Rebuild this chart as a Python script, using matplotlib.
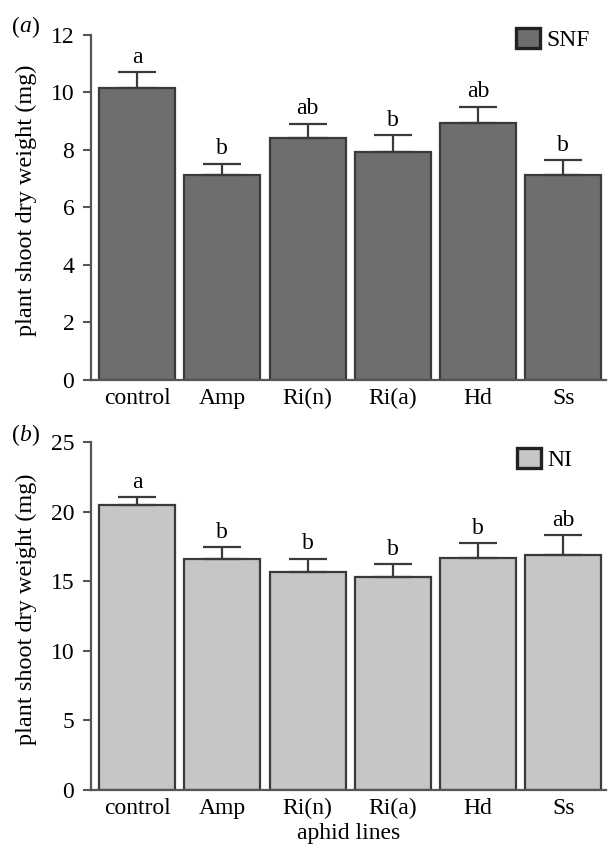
import matplotlib
matplotlib.use('Agg')
import matplotlib.pyplot as plt
from matplotlib.patches import Patch

plt.rcParams['font.family'] = ['Liberation Serif', 'DejaVu Serif']

lines = ['control', 'Amp', 'Ri(n)', 'Ri(a)', 'Hd', 'Ss']

# panel (a): SNF
snf_mean = [10.15, 7.12, 8.40, 7.93, 8.93, 7.14]
snf_err = [0.55, 0.40, 0.51, 0.57, 0.57, 0.49]
snf_letters = ['a', 'b', 'ab', 'b', 'ab', 'b']

# panel (b): NI
ni_mean = [20.45, 16.60, 15.66, 15.30, 16.65, 16.90]
ni_err = [0.58, 0.85, 0.95, 0.94, 1.08, 1.40]
ni_letters = ['a', 'b', 'b', 'b', 'b', 'ab']

EDGE = '#3a3a3a'
FS = 17
W, H = 609, 847


def panel(ax, means, errs, letters, color, label, ymax, step, leg_xy):
    x = range(len(means))
    ax.bar(x, means, width=0.89, color=color, edgecolor=EDGE, linewidth=1.6,
           zorder=2)
    ax.errorbar(x, means, yerr=[[0] * len(errs), errs], fmt='none',
                ecolor=EDGE, elinewidth=1.6, capsize=14, capthick=1.6, zorder=3)
    for xi, m, e, t in zip(x, means, errs, letters):
        ax.text(xi, m + e + ymax * 0.012, t, ha='center', va='bottom',
                fontsize=FS)
    ax.set_xlim(-0.54, 5.5)
    ax.set_ylim(0, ymax)
    ax.set_yticks(range(0, ymax + 1, step))
    ax.set_xticks(list(x))
    ax.set_xticklabels(lines, fontsize=FS)
    ax.tick_params(axis='x', length=0, pad=6)
    ax.tick_params(axis='y', direction='out', length=6, width=1.5,
                   color='#555555', labelsize=FS, pad=6)
    for s in ['top', 'right']:
        ax.spines[s].set_visible(False)
    for s in ['left', 'bottom']:
        ax.spines[s].set_color('#555555')
        ax.spines[s].set_linewidth(1.6)
    ax.set_ylabel('plant shoot dry weight (mg)', fontsize=FS + 0.5)
    ax.yaxis.set_label_coords(-0.105, 0.52)
    ax.legend(handles=[Patch(facecolor=color, edgecolor='#222222',
                             linewidth=2.4, label=label)],
              loc='upper left', bbox_to_anchor=leg_xy,
              bbox_transform=ax.figure.transFigure, frameon=False,
              fontsize=FS, handlelength=1.0, handleheight=0.95,
              handletextpad=0.3, borderaxespad=0, borderpad=0)


fig = plt.figure(figsize=(6.09, 8.47), dpi=100)
ax1 = fig.add_axes([91 / W, 1 - 380 / H, 515 / W, 345.3 / H])
ax2 = fig.add_axes([91 / W, 1 - 789.5 / H, 515 / W, 347.5 / H])

panel(ax1, snf_mean, snf_err, snf_letters, '#6e6e6e', 'SNF', 12, 2,
      (516 / W, 1 - 28 / H))
panel(ax2, ni_mean, ni_err, ni_letters, '#c6c6c6', 'NI', 25, 5,
      (517 / W, 1 - 448 / H))

# panel tags "(a)" / "(b)" with italic letter
for tag, ypix in [('a', 27), ('b', 435)]:
    y = 1 - ypix / H
    fig.text(12 / W, y, '(', fontsize=FS, ha='left', va='center')
    fig.text(19 / W, y, tag, fontsize=FS, ha='left', va='center',
             style='italic')
    fig.text(31 / W, y, ')', fontsize=FS, ha='left', va='center')

ax2.set_xlabel('aphid lines', fontsize=FS, labelpad=3)

fig.savefig('out.png', dpi=100)
